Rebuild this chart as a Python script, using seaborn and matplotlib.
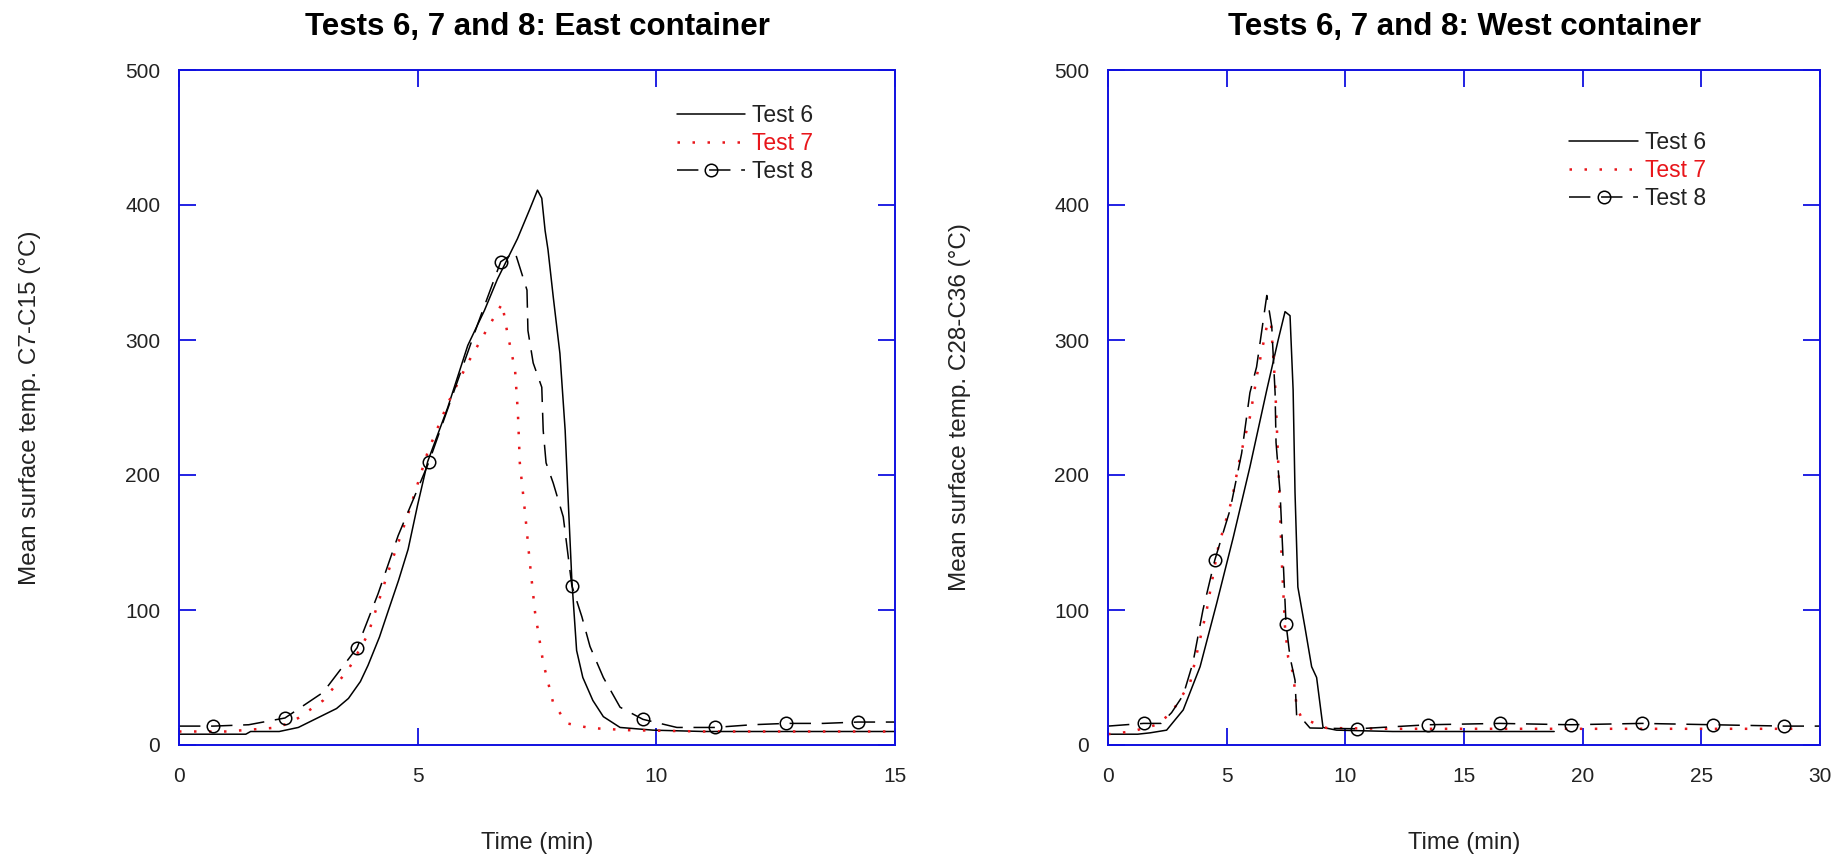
import matplotlib
matplotlib.use("Agg")
import matplotlib.pyplot as plt
import seaborn as sns

# ---------------- data ----------------
# East container
t6_east_time = [0, 1.4, 1.5, 2.1, 2.5, 2.9, 3.3, 3.55, 3.8, 3.96, 4.2, 4.38, 4.6, 4.8, 5.0,
                5.21, 5.63, 6.05, 6.4, 6.67, 7.09, 7.35, 7.51, 7.6, 7.67, 7.73, 7.84, 7.98,
                8.09, 8.15, 8.23, 8.33, 8.46, 8.67, 8.89, 9.24, 9.93, 11, 13, 15]
t6_east_temp = [8, 8, 10, 10, 13, 20, 27, 34.5, 47, 59, 80, 99, 122, 145, 178,
                210, 250, 296, 322, 345, 375, 397, 411, 405, 381, 367, 332, 290,
                233, 184, 122, 70, 50, 33, 21, 13, 11, 10, 10, 10]

t7_east_time = [0, 1.0, 2.09, 2.5, 3.02, 3.55, 3.96, 4.38, 4.8, 5.21, 5.63, 6.05, 6.47, 6.77,
                6.87, 7.04, 7.1, 7.14, 7.25, 7.35, 7.46, 7.63, 7.84, 8.13, 8.61, 9.39, 11, 13, 15]
t7_east_temp = [10, 10, 13, 20, 33, 56, 82, 128, 171, 217, 253, 283, 309, 327,
                307, 278, 246, 209, 172, 135, 98, 61, 31, 16, 12.6, 11, 10, 10, 10]

t8_east_time = [0, 0.72, 1.46, 2.22, 3.02, 3.73, 4.17, 4.59, 5.24, 5.84, 6.26, 6.74, 7.04,
                7.29, 7.31, 7.42, 7.6, 7.63, 7.69, 7.84, 8.05, 8.23, 8.44, 8.61, 8.89, 9.24,
                9.72, 10.43, 11.22, 12.0, 12.72, 13.5, 14.22, 15]
t8_east_temp = [14, 14, 15, 20, 39, 72, 112, 155, 210, 270, 312, 358, 365,
                337, 307, 283, 265, 233, 209, 194, 169, 118, 95, 73, 50, 28,
                19, 13, 13, 15, 16, 16, 17, 17]
t8_east_marks = [0.72, 2.22, 3.73, 5.24, 6.74, 8.23, 9.72, 11.22, 12.72, 14.22]

# West container
t6_west_time = [0, 1.25, 1.77, 2.47, 3.17, 3.88, 4.58, 5.28, 5.98, 6.69, 7.17, 7.46, 7.67,
                7.8, 7.88, 8.0, 8.3, 8.58, 8.79, 9.06, 9.63, 12, 15, 18.8]
t6_west_temp = [8, 8, 9, 11, 26, 58, 105, 154, 206, 263, 300, 321, 318,
                263, 187, 117, 87, 58, 50, 13, 11, 10, 10, 10]

t7_west_time = [0, 1.0, 2.05, 2.68, 3.46, 4.16, 4.65, 5.21, 5.56, 5.98, 6.32, 6.69, 6.86,
                7.04, 7.17, 7.32, 7.46, 7.59, 7.8, 7.95, 8.16, 9.21, 12, 16, 20, 24, 29]
t7_west_temp = [8, 10, 15, 24, 46, 100, 147, 181, 213, 243, 278, 310, 314,
                268, 211, 137, 87, 65, 53, 28, 20, 12.6, 12, 12, 12, 12, 12]

t8_west_time = [0, 1.5, 2.24, 2.68, 3.17, 3.58, 4.0, 4.5, 5.14, 5.63, 5.98, 6.26, 6.48, 6.69,
                6.9, 7.04, 7.08, 7.25, 7.38, 7.5, 7.67, 7.88, 7.95, 8.22, 8.51, 10.5, 13.5,
                16.5, 19.5, 22.5, 25.5, 28.5, 30]
t8_west_temp = [14, 16, 16, 24, 37, 61, 100, 137, 174, 216, 261, 280, 307, 333,
                310, 261, 224, 187, 137, 90, 65, 48, 21, 18.5, 12.6, 12, 15,
                16, 15, 16, 15, 14, 14]
t8_west_marks = [1.5, 4.5, 7.5, 10.5, 13.5, 16.5, 19.5, 22.5, 25.5, 28.5]

series_labels = ["Test 6", "Test 7", "Test 8"]
east_xticks = [0, 5, 10, 15]
west_xticks = [0, 5, 10, 15, 20, 25, 30]
y_ticks = [0, 100, 200, 300, 400, 500]

# ---------------- style ----------------
sns.set_style("white")
plt.rcParams['font.family'] = ['Liberation Sans', 'DejaVu Sans']

BLUE = '#1010e0'
RED = '#e8161b'
TXT = '#222222'

fig = plt.figure(figsize=(18.36, 8.6), dpi=100)
ax1 = fig.add_axes([179 / 1836, 115 / 860, 716 / 1836, 675 / 860])
ax2 = fig.add_axes([1108 / 1836, 115 / 860, 712 / 1836, 675 / 860])


def draw(ax, t6, y6, t7, y7, t8, y8, marks, xticks, title, ylabel, leg_xy):
    sns.lineplot(x=t6, y=y6, ax=ax, sort=False, estimator=None, label=series_labels[0],
                 color='black', linewidth=1.1, linestyle='-')
    sns.lineplot(x=t7, y=y7, ax=ax, sort=False, estimator=None, label=series_labels[1],
                 color=RED, linewidth=1.8, linestyle=(0, (1, 5)))
    idx = [t8.index(m) for m in marks]
    sns.lineplot(x=t8, y=y8, ax=ax, sort=False, estimator=None, label=series_labels[2],
                 color='black', linewidth=1.1, linestyle=(0, (14, 7)),
                 marker='o', markersize=9, markerfacecolor='none',
                 markeredgecolor='black', markeredgewidth=1.1, markevery=idx)

    ax.set_xlim(xticks[0], xticks[-1])
    ax.set_ylim(0, 500)
    ax.set_xticks(xticks)
    ax.set_yticks(y_ticks)
    for s in ax.spines.values():
        s.set_visible(True)
        s.set_color(BLUE)
        s.set_linewidth(1.4)
    ax.tick_params(axis='both', direction='in', length=12, width=1.3, colors=BLUE,
                   labelcolor=TXT, labelsize=15, top=True, right=True,
                   bottom=True, left=True)
    ax.tick_params(axis='x', pad=16)
    ax.tick_params(axis='y', pad=13.5)

    ax.set_title(title, fontsize=22.5, fontweight='bold', pad=25, color='black')
    ax.set_xlabel('Time (min)', fontsize=17, color=TXT)
    ax.xaxis.set_label_coords(0.5, -0.129)
    ax.set_ylabel(ylabel, fontsize=17.5, color=TXT)
    ax.yaxis.set_label_coords(-0.193, 0.5)

    handles = ax.get_lines()[:3]
    leg = ax.legend(handles, series_labels, loc='upper left', bbox_to_anchor=leg_xy,
                    frameon=False, fontsize=16.5, handlelength=3.0, handletextpad=0.3,
                    labelspacing=0.22, borderpad=0, borderaxespad=0, numpoints=1)
    leg.get_texts()[0].set_color(TXT)
    leg.get_texts()[1].set_color(RED)
    leg.get_texts()[2].set_color(TXT)


draw(ax1, t6_east_time, t6_east_temp, t7_east_time, t7_east_temp,
     t8_east_time, t8_east_temp, t8_east_marks, east_xticks,
     'Tests 6, 7 and 8: East container', 'Mean surface temp. C7-C15 (°C)',
     (0.695, 0.95))
draw(ax2, t6_west_time, t6_west_temp, t7_west_time, t7_west_temp,
     t8_west_time, t8_west_temp, t8_west_marks, west_xticks,
     'Tests 6, 7 and 8: West container', 'Mean surface temp. C28-C36 (°C)',
     (0.648, 0.91))

fig.savefig('out.png', dpi=100)
